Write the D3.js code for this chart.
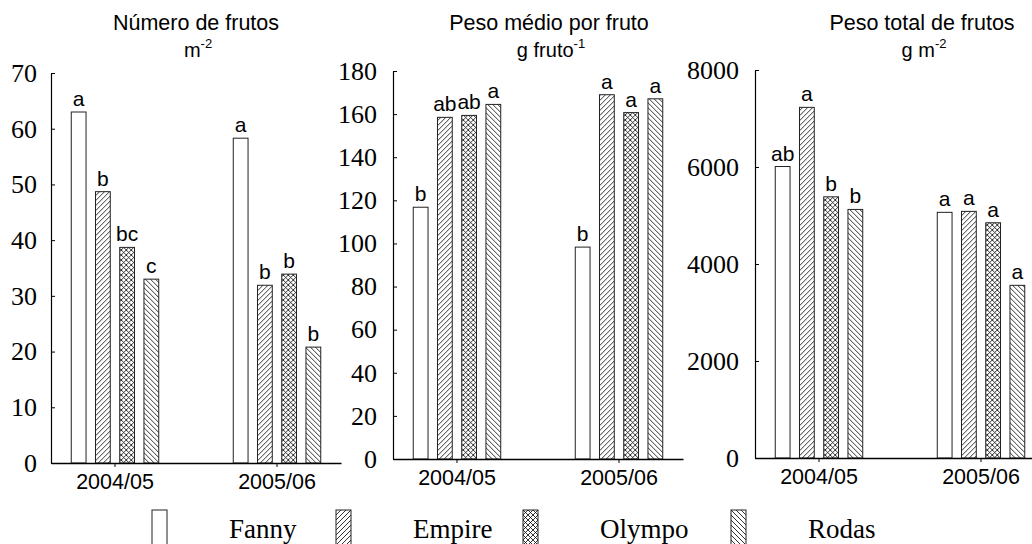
<!DOCTYPE html>
<html>
<head>
<meta charset="utf-8">
<script src="https://cdn.jsdelivr.net/npm/d3@7"></script>
<style>
  body { margin: 0; background: #fff; }
</style>
</head>
<body>
<div id="chart"></div>
<script>
// Data
var seasons = ["2004/05", "2005/06"];
var cultivars = ["Fanny", "Empire", "Olympo", "Rodas"];

// Número de frutos m-2
var frutos = [[63.0, 48.7, 38.7, 33.0], [58.3, 31.9, 33.9, 20.8]];
var frutosLetters = [["a", "b", "bc", "c"], ["a", "b", "b", "b"]];

// Peso médio por fruto (g fruto-1)
var peso = [[116.8, 158.5, 159.4, 164.5], [98.3, 169.0, 160.7, 167.1]];
var pesoLetters = [["b", "ab", "ab", "a"], ["b", "a", "a", "a"]];

// Peso total de frutos (g m-2)
var total = [[6010, 7230, 5385, 5125], [5065, 5085, 4850, 3560]];
var totalLetters = [["ab", "a", "b", "b"], ["a", "a", "a", "a"]];

var sans = "'Liberation Sans', Arial, sans-serif";
var serif = "'Liberation Serif', 'Times New Roman', serif";

var svgWidth = 1032;
var svgHeight = 544;

var svg = d3.select("#chart")
    .append("svg")
    .attr("width", svgWidth)
    .attr("height", svgHeight);

// Hatch patterns
var defs = svg.append("defs");
var fills = {
    Fanny: "#fff",
    Empire: "url(#p-empire)",
    Olympo: "url(#p-olympo)",
    Rodas: "url(#p-rodas)"
};
function hatch(id, d) {
    defs.append("pattern")
        .attr("id", id)
        .attr("patternUnits", "userSpaceOnUse")
        .attr("width", 5)
        .attr("height", 5)
      .append("path")
        .attr("d", d)
        .attr("stroke", "#000")
        .attr("stroke-width", 0.8)
        .attr("fill", "none");
}
var fwd = "M-1,1 L1,-1 M0,5 L5,0 M4,6 L6,4";
var back = "M-1,4 L1,6 M0,0 L5,5 M4,-1 L6,1";
hatch("p-empire", fwd);
hatch("p-rodas", back);
hatch("p-olympo", fwd + " " + back);

var panelWidth = 290;

function drawPanel(p) {
    var g = svg.append("g").attr("transform", `translate(${p.x0}, 0)`);

    var x0 = d3.scaleBand()
        .domain(seasons)
        .range([0, panelWidth])
        .paddingInner(0.46)
        .paddingOuter(0.125);

    var x1 = d3.scaleBand()
        .domain(cultivars)
        .range([0, x0.bandwidth()])
        .paddingInner(0.39)
        .paddingOuter(0);

    var y = d3.scaleLinear()
        .domain([0, p.max])
        .range([p.bottom, p.top]);

    // y axis
    var yAxis = g.append("g")
        .call(d3.axisLeft(y)
            .tickValues(d3.range(0, p.max + 1, p.step))
            .tickFormat(d3.format("d"))
            .tickSizeInner(-4)
            .tickSizeOuter(0)
            .tickPadding(p.pad));
    yAxis.attr("font-family", null).attr("font-size", null);
    yAxis.select(".domain").attr("stroke-width", 1.2);
    yAxis.selectAll("text")
        .style("font-family", serif)
        .style("font-size", "26px")
        .attr("fill", "#000");

    // bars
    seasons.forEach(function(s, si) {
        var grp = g.append("g").attr("transform", `translate(${x0(s)}, 0)`);
        var rows = cultivars.map((c, ci) => ({ c: c, v: p.values[si][ci], l: p.letters[si][ci] }));

        grp.selectAll("rect")
            .data(rows)
            .enter()
            .append("rect")
                .attr("x", d => x1(d.c))
                .attr("y", d => y(d.v))
                .attr("width", x1.bandwidth())
                .attr("height", d => y(0) - y(d.v))
                .attr("fill", d => fills[d.c])
                .attr("stroke", "#222")
                .attr("stroke-width", 1);

        grp.selectAll("text")
            .data(rows)
            .enter()
            .append("text")
                .attr("x", d => x1(d.c) + x1.bandwidth() / 2)
                .attr("y", d => y(d.v) - 6)
                .attr("text-anchor", "middle")
                .style("font-family", sans)
                .style("font-size", "21px")
                .text(d => d.l);
    });

    // x axis
    var xAxis = g.append("g")
        .attr("transform", `translate(0, ${p.bottom})`)
        .call(d3.axisBottom(x0)
            .tickSizeInner(4)
            .tickSizeOuter(0)
            .tickPadding(7));
    xAxis.attr("font-family", null).attr("font-size", null);
    xAxis.select(".domain").attr("stroke-width", 1.6);
    xAxis.selectAll("text")
        .style("font-family", sans)
        .style("font-size", "21.5px")
        .attr("fill", "#000");

    // title
    svg.append("text")
        .attr("x", p.titleX)
        .attr("y", 30)
        .attr("text-anchor", "middle")
        .style("font-family", sans)
        .style("font-size", "21.5px")
        .text(p.title);

    var t2 = svg.append("text")
        .attr("x", p.titleX + 2)
        .attr("y", 57)
        .attr("text-anchor", "middle")
        .style("font-family", sans)
        .style("font-size", "20px");
    t2.append("tspan").text(p.unit);
    t2.append("tspan")
        .attr("dy", -9)
        .style("font-size", "13px")
        .text(p.sup);
}

drawPanel({ x0: 51, top: 73, bottom: 463, max: 70, step: 10, pad: 14,
    values: frutos, letters: frutosLetters,
    title: "Número de frutos", unit: "m", sup: "-2", titleX: 196 });

drawPanel({ x0: 393, top: 71, bottom: 459, max: 180, step: 20, pad: 16,
    values: peso, letters: pesoLetters,
    title: "Peso médio por fruto", unit: "g fruto", sup: "-1", titleX: 549 });

drawPanel({ x0: 755, top: 70, bottom: 458, max: 8000, step: 2000, pad: 16,
    values: total, letters: totalLetters,
    title: "Peso total de frutos", unit: "g m", sup: "-2", titleX: 922 });

// Legend
var legendX = [152, 336, 523, 731];
var legend = svg.selectAll(".legend")
    .data(cultivars)
    .enter()
    .append("g")
    .attr("class", "legend")
    .attr("transform", (d, i) => `translate(${legendX[i]}, 510)`);

legend.append("rect")
    .attr("width", 15)
    .attr("height", 40)
    .attr("fill", d => fills[d])
    .attr("stroke", "#222")
    .attr("stroke-width", 1);

legend.append("text")
    .attr("x", 77)
    .attr("y", 28)
    .style("font-family", serif)
    .style("font-size", "27px")
    .text(d => d);
</script>
</body>
</html>
